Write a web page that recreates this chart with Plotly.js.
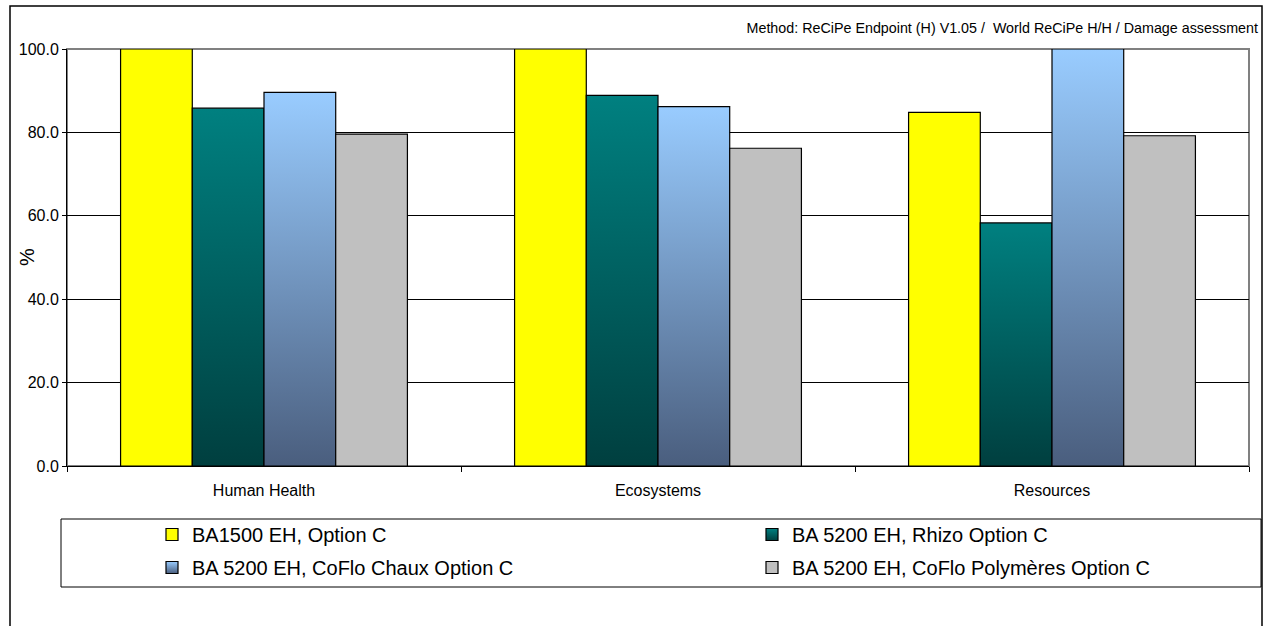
<!DOCTYPE html>
<html>
<head>
<meta charset="utf-8">
<script src="https://cdn.plot.ly/plotly-3.0.1.min.js"></script>
<style>
html,body{margin:0;padding:0;background:#fff;}
#chart{width:1269px;height:626px;}
</style>
</head>
<body>
<div id="chart"></div>
<script>
// ---- data ----
var categories = ["Human Health", "Ecosystems", "Resources"];
var seriesNames = [
  "BA1500 EH, Option C",
  "BA 5200 EH, Rhizo Option C",
  "BA 5200 EH, CoFlo Chaux Option C",
  "BA 5200 EH, CoFlo Polymères Option C"
];
var ba1500 = [100.0, 100.0, 84.8];
var rhizo = [85.8, 88.9, 58.3];
var chaux = [89.6, 86.2, 100.0];
var polymeres = [79.6, 76.2, 79.2];
var yTicks = [0, 20, 40, 60, 80, 100];
var titleText = "Method: ReCiPe Endpoint (H) V1.05 /  World ReCiPe H/H / Damage assessment";

// ---- styles ----
var colors = ["#ffff00", "#008080", "#99ccff", "#c0c0c0"];
var gradients = [null, ["#008080", "#003f3f"], ["#99ccff", "#4a5e7e"], null];
var legendIds = ["legend", "legend2", "legend3", "legend4"];
var allValues = [ba1500, rhizo, chaux, polymeres];

var traces = allValues.map(function (vals, i) {
  return {
    type: "bar",
    name: seriesNames[i],
    x: categories,
    y: vals,
    legend: legendIds[i],
    marker: {color: colors[i], line: {color: "#000000", width: 1.2}},
    hoverinfo: "x+y+name"
  };
});

var font = "Arial, 'Liberation Sans', sans-serif";

function legendAt(px, py) {
  return {
    orientation: "v",
    x: (px - 67) / 1182, xanchor: "left",
    y: (466 - py) / 417, yanchor: "top",
    bgcolor: "rgba(0,0,0,0)", borderwidth: 0,
    font: {family: font, size: 20, color: "#000000"}
  };
}

var layout = {
  width: 1269,
  height: 626,
  margin: {l: 67, r: 20, t: 49, b: 160},
  paper_bgcolor: "#ffffff",
  plot_bgcolor: "#ffffff",
  font: {family: font, color: "#000000", size: 16},
  barmode: "group",
  bargap: 0.272,
  bargroupgap: 0,
  title: {
    text: titleText,
    font: {family: font, size: 14.3, color: "#000000"},
    xref: "container", x: 1, xanchor: "right", pad: {r: 11},
    yref: "container", y: 1 - 28 / 626, yanchor: "middle"
  },
  xaxis: {
    type: "category",
    showline: true, linecolor: "#000000", linewidth: 1,
    ticks: "outside", tickson: "boundaries", ticklen: 5, tickcolor: "#000000",
    tickfont: {family: font, size: 16, color: "#000000"},
    ticklabelstandoff: 10,
    showgrid: false, zeroline: false, fixedrange: true
  },
  yaxis: {
    range: [0, 100],
    tickvals: yTicks,
    tickformat: ".1f",
    showline: true, linecolor: "#000000", linewidth: 1,
    ticks: "outside", ticklen: 4, tickcolor: "#000000",
    tickfont: {family: font, size: 16, color: "#000000"},
    showgrid: true, gridcolor: "#000000", gridwidth: 1,
    zeroline: false, fixedrange: true
  },
  legend: legendAt(152, 515),
  legend2: legendAt(752, 515),
  legend3: legendAt(152, 548),
  legend4: legendAt(752, 548),
  annotations: [{
    text: "%",
    xref: "paper", yref: "paper",
    x: (27 - 67) / 1182, y: (466 - 257) / 417,
    xanchor: "center", yanchor: "middle",
    textangle: -90, showarrow: false,
    font: {family: font, size: 20, color: "#000000"}
  }],
  shapes: [
    // plot-area border (grey)
    {type: "rect", xref: "paper", yref: "paper", x0: 0, x1: 1, y0: 0, y1: 1,
     line: {color: "#808080", width: 2}, layer: "below"},
    // legend box
    {type: "rect", xref: "paper", yref: "paper",
     x0: (61 - 67) / 1182, x1: (1261 - 67) / 1182,
     y0: (466 - 587) / 417, y1: (466 - 519) / 417,
     line: {color: "#000000", width: 1}, layer: "above"},
    // outer chart border
    {type: "rect", xref: "paper", yref: "paper",
     x0: (10 - 67) / 1182, x1: (1262 - 67) / 1182,
     y0: (466 - 632) / 417, y1: (466 - 6) / 417,
     line: {color: "#000000", width: 1.5}, layer: "above"}
  ],
  showlegend: true
};

function ensureGradients(gd) {
  var svgs = gd.querySelectorAll("svg.main-svg");
  var ns = "http://www.w3.org/2000/svg";
  svgs.forEach(function (svg) {
    var defs = svg.querySelector("defs");
    if (!defs) {
      defs = document.createElementNS(ns, "defs");
      svg.insertBefore(defs, svg.firstChild);
    }
    gradients.forEach(function (g, i) {
      if (!g) return;
      var id = "bargrad" + i;
      if (document.getElementById(id)) return;
      var lg = document.createElementNS(ns, "linearGradient");
      lg.setAttribute("id", id);
      lg.setAttribute("x1", "0"); lg.setAttribute("y1", "0");
      lg.setAttribute("x2", "0"); lg.setAttribute("y2", "1");
      [[0, g[0]], [1, g[1]]].forEach(function (s) {
        var st = document.createElementNS(ns, "stop");
        st.setAttribute("offset", s[0]);
        st.setAttribute("stop-color", s[1]);
        lg.appendChild(st);
      });
      defs.appendChild(lg);
    });
  });
}

function traceIndexOf(el) {
  var d = el.__data__;
  if (d && d[0] && d[0].trace) return d[0].trace.index;
  if (d && d.trace) return d.trace.index;
  return -1;
}

function applyGradients(gd) {
  ensureGradients(gd);
  gd.querySelectorAll(".barlayer .trace").forEach(function (t) {
    var idx = traceIndexOf(t);
    if (idx >= 0 && gradients[idx]) {
      t.querySelectorAll("path").forEach(function (p) { p.style.fill = "url(#bargrad" + idx + ")"; });
    }
  });
  gd.querySelectorAll("g.traces").forEach(function (t) {
    var idx = traceIndexOf(t);
    if (idx >= 0 && gradients[idx]) {
      t.querySelectorAll(".legendpoints path").forEach(function (p) { p.style.fill = "url(#bargrad" + idx + ")"; });
    }
  });
}

var gd = document.getElementById("chart");
Plotly.newPlot(gd, traces, layout, {displayModeBar: false, staticPlot: true}).then(function () {
  applyGradients(gd);
  gd.on("plotly_afterplot", function () { applyGradients(gd); });
});
</script>
</body>
</html>
